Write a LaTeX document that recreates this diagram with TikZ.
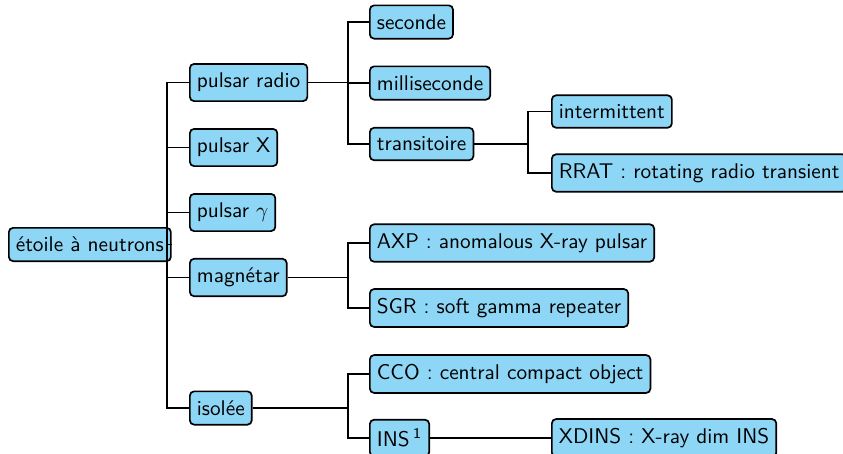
\documentclass[tikz,border=0pt]{standalone}
\usepackage{fontspec}
\definecolor{nodeblue}{RGB}{142,214,245}
\begin{document}
\begin{tikzpicture}[x=0.47pt,y=-0.47pt,font=\sffamily,
  box/.style={draw, line width=0.8pt, rounded corners=2pt, fill=nodeblue, anchor=west, inner xsep=3.3pt, inner ysep=4.3pt},
  conn/.style={line width=0.9pt}]
\useasboundingbox (0,0) rectangle (843,453);
% fork points
\coordinate (f0) at (167,244.5);
\coordinate (f1) at (348,82.5);
\coordinate (f2) at (348,277.5);
\coordinate (f3) at (348,408);
\coordinate (f4) at (528,144);
\coordinate (f5) at (528,438);
% nodes
\node[box] (root) at (8,244.5) {étoile à neutrons};
\node[box] (pr) at (189,82.5) {pulsar radio};
\node[box] (px) at (189,147.5) {pulsar X};
\node[box] (pg) at (189,212.5) {pulsar $\gamma$};
\node[box] (mag) at (189,277.5) {magnétar};
\node[box] (iso) at (189,408) {isolée};
\node[box] (sec) at (369,22) {seconde};
\node[box] (ms) at (369,83) {milliseconde};
\node[box] (tr) at (369,144) {transitoire};
\node[box] (axp) at (369,243) {AXP : anomalous X-ray pulsar};
\node[box] (sgr) at (369,308) {SGR : soft gamma repeater};
\node[box] (cco) at (369,374) {CCO : central compact object};
\node[box] (ins) at (369,438) {INS\,\textsuperscript{1}};
\node[box] (int) at (551,111.5) {intermittent};
\node[box] (rrat) at (551,173) {RRAT : rotating radio transient};
\node[box] (xd) at (551,438) {XDINS : X-ray dim INS};
% connectors
\foreach \c in {pr,px,pg,mag,iso} \draw[conn] (root.east) -- (f0) |- (\c.west);
\foreach \c in {sec,ms,tr} \draw[conn] (pr.east) -- (f1) |- (\c.west);
\foreach \c in {axp,sgr} \draw[conn] (mag.east) -- (f2) |- (\c.west);
\foreach \c in {cco,ins} \draw[conn] (iso.east) -- (f3) |- (\c.west);
\foreach \c in {int,rrat} \draw[conn] (tr.east) -- (f4) |- (\c.west);
\draw[conn] (ins.east) -- (f5) |- (xd.west);
\end{tikzpicture}
\end{document}
